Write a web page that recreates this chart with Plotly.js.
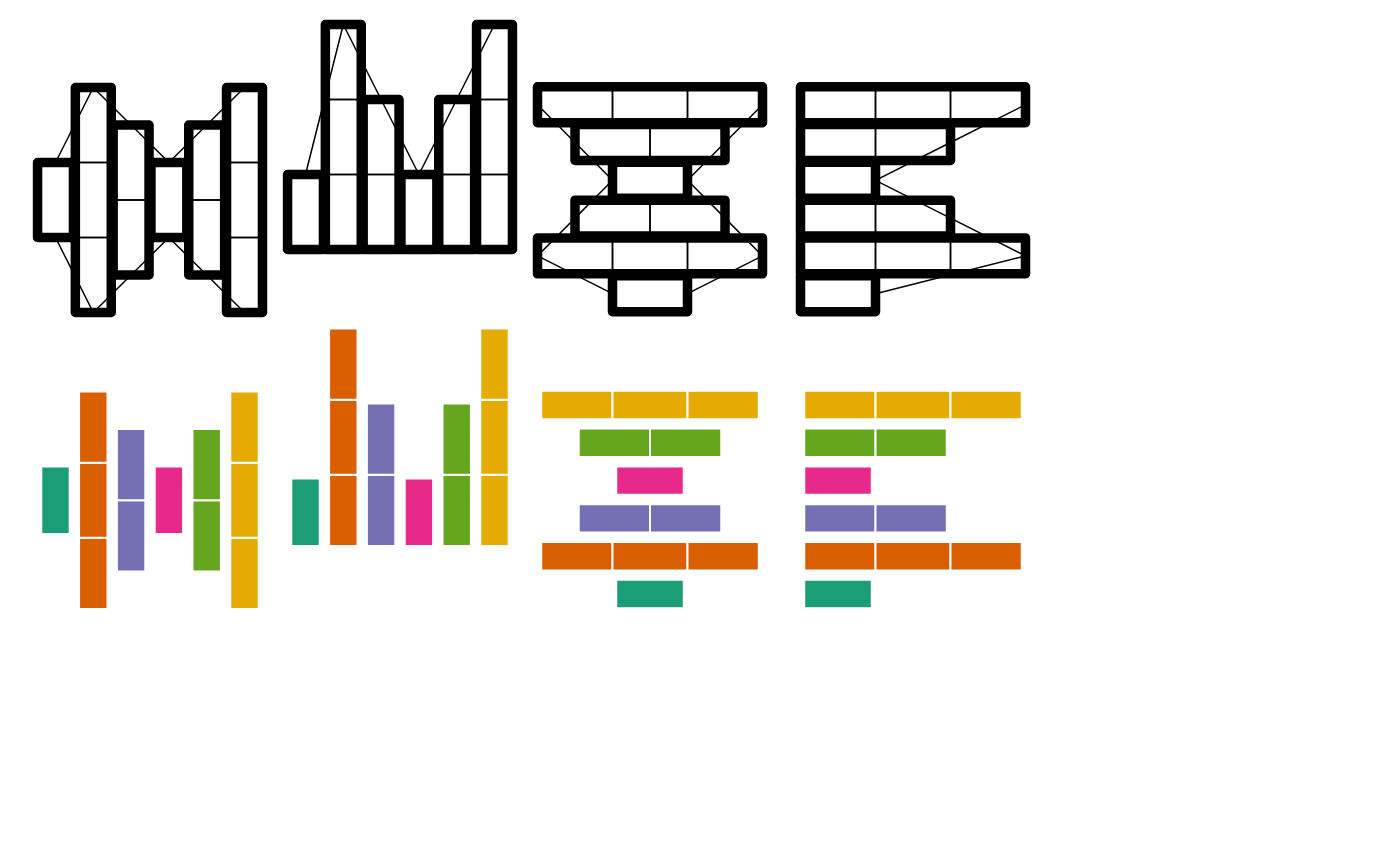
<!DOCTYPE html>
<html>
<head>
<meta charset="utf-8">
<script src="https://cdn.plot.ly/plotly-3.0.1.min.js"></script>
<style>
html,body{margin:0;padding:0;background:#fff;}
#chart{width:1400px;height:866px;}
#chart .barlayer .point path{stroke-linejoin:round;}
</style>
</head>
<body>
<div id="chart"></div>
<script>
// ---- data ----
const categories = ['A', 'B', 'C', 'D', 'E', 'F'];
const layer1 = [1, 1, 1, 1, 1, 1];
const layer2 = [0, 1, 1, 0, 1, 1];
const layer3 = [0, 1, 0, 0, 0, 1];
const palette = ['#1b9e77', '#d95f02', '#7570b3', '#e7298a', '#66a61e', '#e6ab02'];

// ---- derived ----
const layers = [layer1, layer2, layer3];
const totals = categories.map((c, i) => layers.reduce((s, l) => s + l[i], 0));

const W = 1400, H = 866;
const fx = p => p / W;
const fy = p => 1 - p / H;

// panel styles: 'vc' vertical centered, 'vb' vertical from baseline, 'hc' horizontal centered, 'hb' horizontal from baseline
const panels = ['vc', 'vb', 'hc', 'hb'];
const colX = [[27.15, 272.85], [277.15, 522.85], [530, 770], [793, 1033]];
const valRange = {vc: [-1.8, 1.8], vb: [-0.3, 3.3], hc: [-1.6, 1.6], hb: [-0.1, 3.1]};
const catRange = [-0.75, 5.75];
const colYTop = [[65, 335], [2, 272], [76.35, 322.05], [76.35, 322.05]];
const rowShift = [0, 300.3];

const BAR_W = 0.95;
const layout = {
  width: W, height: H,
  margin: {l: 0, r: 0, t: 0, b: 0},
  paper_bgcolor: '#fff', plot_bgcolor: 'rgba(0,0,0,0)',
  barmode: 'overlay', showlegend: false
};
const data = [];
const hidden = {visible: false, showgrid: false, zeroline: false, showticklabels: false, fixedrange: true};

let axN = 0;
function axName(n) { return n === 1 ? '' : String(n); }

for (let row = 0; row < 2; row++) {
  for (let col = 0; col < 4; col++) {
    axN++;
    const kind = panels[col];
    const horiz = kind[0] === 'h';
    const centered = kind[1] === 'c';
    const xd = [fx(colX[col][0]), fx(colX[col][1])];
    const ypx = [colYTop[col][0] + rowShift[row], colYTop[col][1] + rowShift[row]];
    const yd = [fy(ypx[1]), fy(ypx[0])];
    const xAx = 'xaxis' + axName(axN), yAx = 'yaxis' + axName(axN);
    const catAxis = Object.assign({}, hidden, {type: 'category', range: catRange});
    const valAxis = Object.assign({}, hidden, {type: 'linear', range: valRange[kind]});
    layout[xAx] = Object.assign({}, horiz ? valAxis : catAxis, {domain: xd, anchor: 'y' + axName(axN)});
    layout[yAx] = Object.assign({}, horiz ? catAxis : valAxis, {domain: yd, anchor: 'x' + axName(axN)});

    let bx = 'x' + axName(axN), by = 'y' + axName(axN);
    const top = row === 0;
    if (top) {
      // connectors on the main subplot (drawn beneath), bars on an overlay subplot
      const ends = centered ? [totals.map(t => t / 2), totals.map(t => -t / 2)] : [totals.slice()];
      ends.forEach(e => {
        data.push(horiz
          ? {type: 'scatter', mode: 'lines', x: e, y: categories, xaxis: bx, yaxis: by,
             line: {color: '#000', width: 1.5}, hoverinfo: 'skip'}
          : {type: 'scatter', mode: 'lines', x: categories, y: e, xaxis: bx, yaxis: by,
             line: {color: '#000', width: 1.5}, hoverinfo: 'skip'});
      });
      const oN = axN + 8;
      layout['xaxis' + oN] = Object.assign({}, layout[xAx], {overlaying: bx, anchor: 'y' + oN});
      layout['yaxis' + oN] = Object.assign({}, layout[yAx], {overlaying: by, anchor: 'x' + oN});
      delete layout['xaxis' + oN].domain; delete layout['yaxis' + oN].domain;
      bx = 'x' + oN; by = 'y' + oN;
    }
    const lineCol = top ? '#000' : '#fff';
    // stacked segments
    const cum = totals.map(t => centered ? -t / 2 : 0);
    layers.forEach(l => {
      const vals = l.map(v => v > 0 ? v : null);
      const base = cum.slice();
      const tr = {
        type: 'bar', orientation: horiz ? 'h' : 'v', width: BAR_W,
        base: base, xaxis: bx, yaxis: by, hoverinfo: 'skip',
        marker: {color: top ? 'rgba(0,0,0,0)' : palette, line: {color: lineCol, width: top ? 1.5 : 2}}
      };
      if (horiz) { tr.x = vals; tr.y = categories; } else { tr.x = categories; tr.y = vals; }
      data.push(tr);
      l.forEach((v, i) => { cum[i] += v; });
    });
    // outline of the total
    const tt = {
      type: 'bar', orientation: horiz ? 'h' : 'v', width: BAR_W,
      base: totals.map(t => centered ? -t / 2 : 0), xaxis: bx, yaxis: by, hoverinfo: 'skip',
      marker: {color: 'rgba(0,0,0,0)', line: {color: lineCol, width: 9.5}}
    };
    if (horiz) { tt.x = totals; tt.y = categories; } else { tt.x = categories; tt.y = totals; }
    data.push(tt);
  }
}

Plotly.newPlot('chart', data, layout, {displayModeBar: false, staticPlot: true});
</script>
</body>
</html>
